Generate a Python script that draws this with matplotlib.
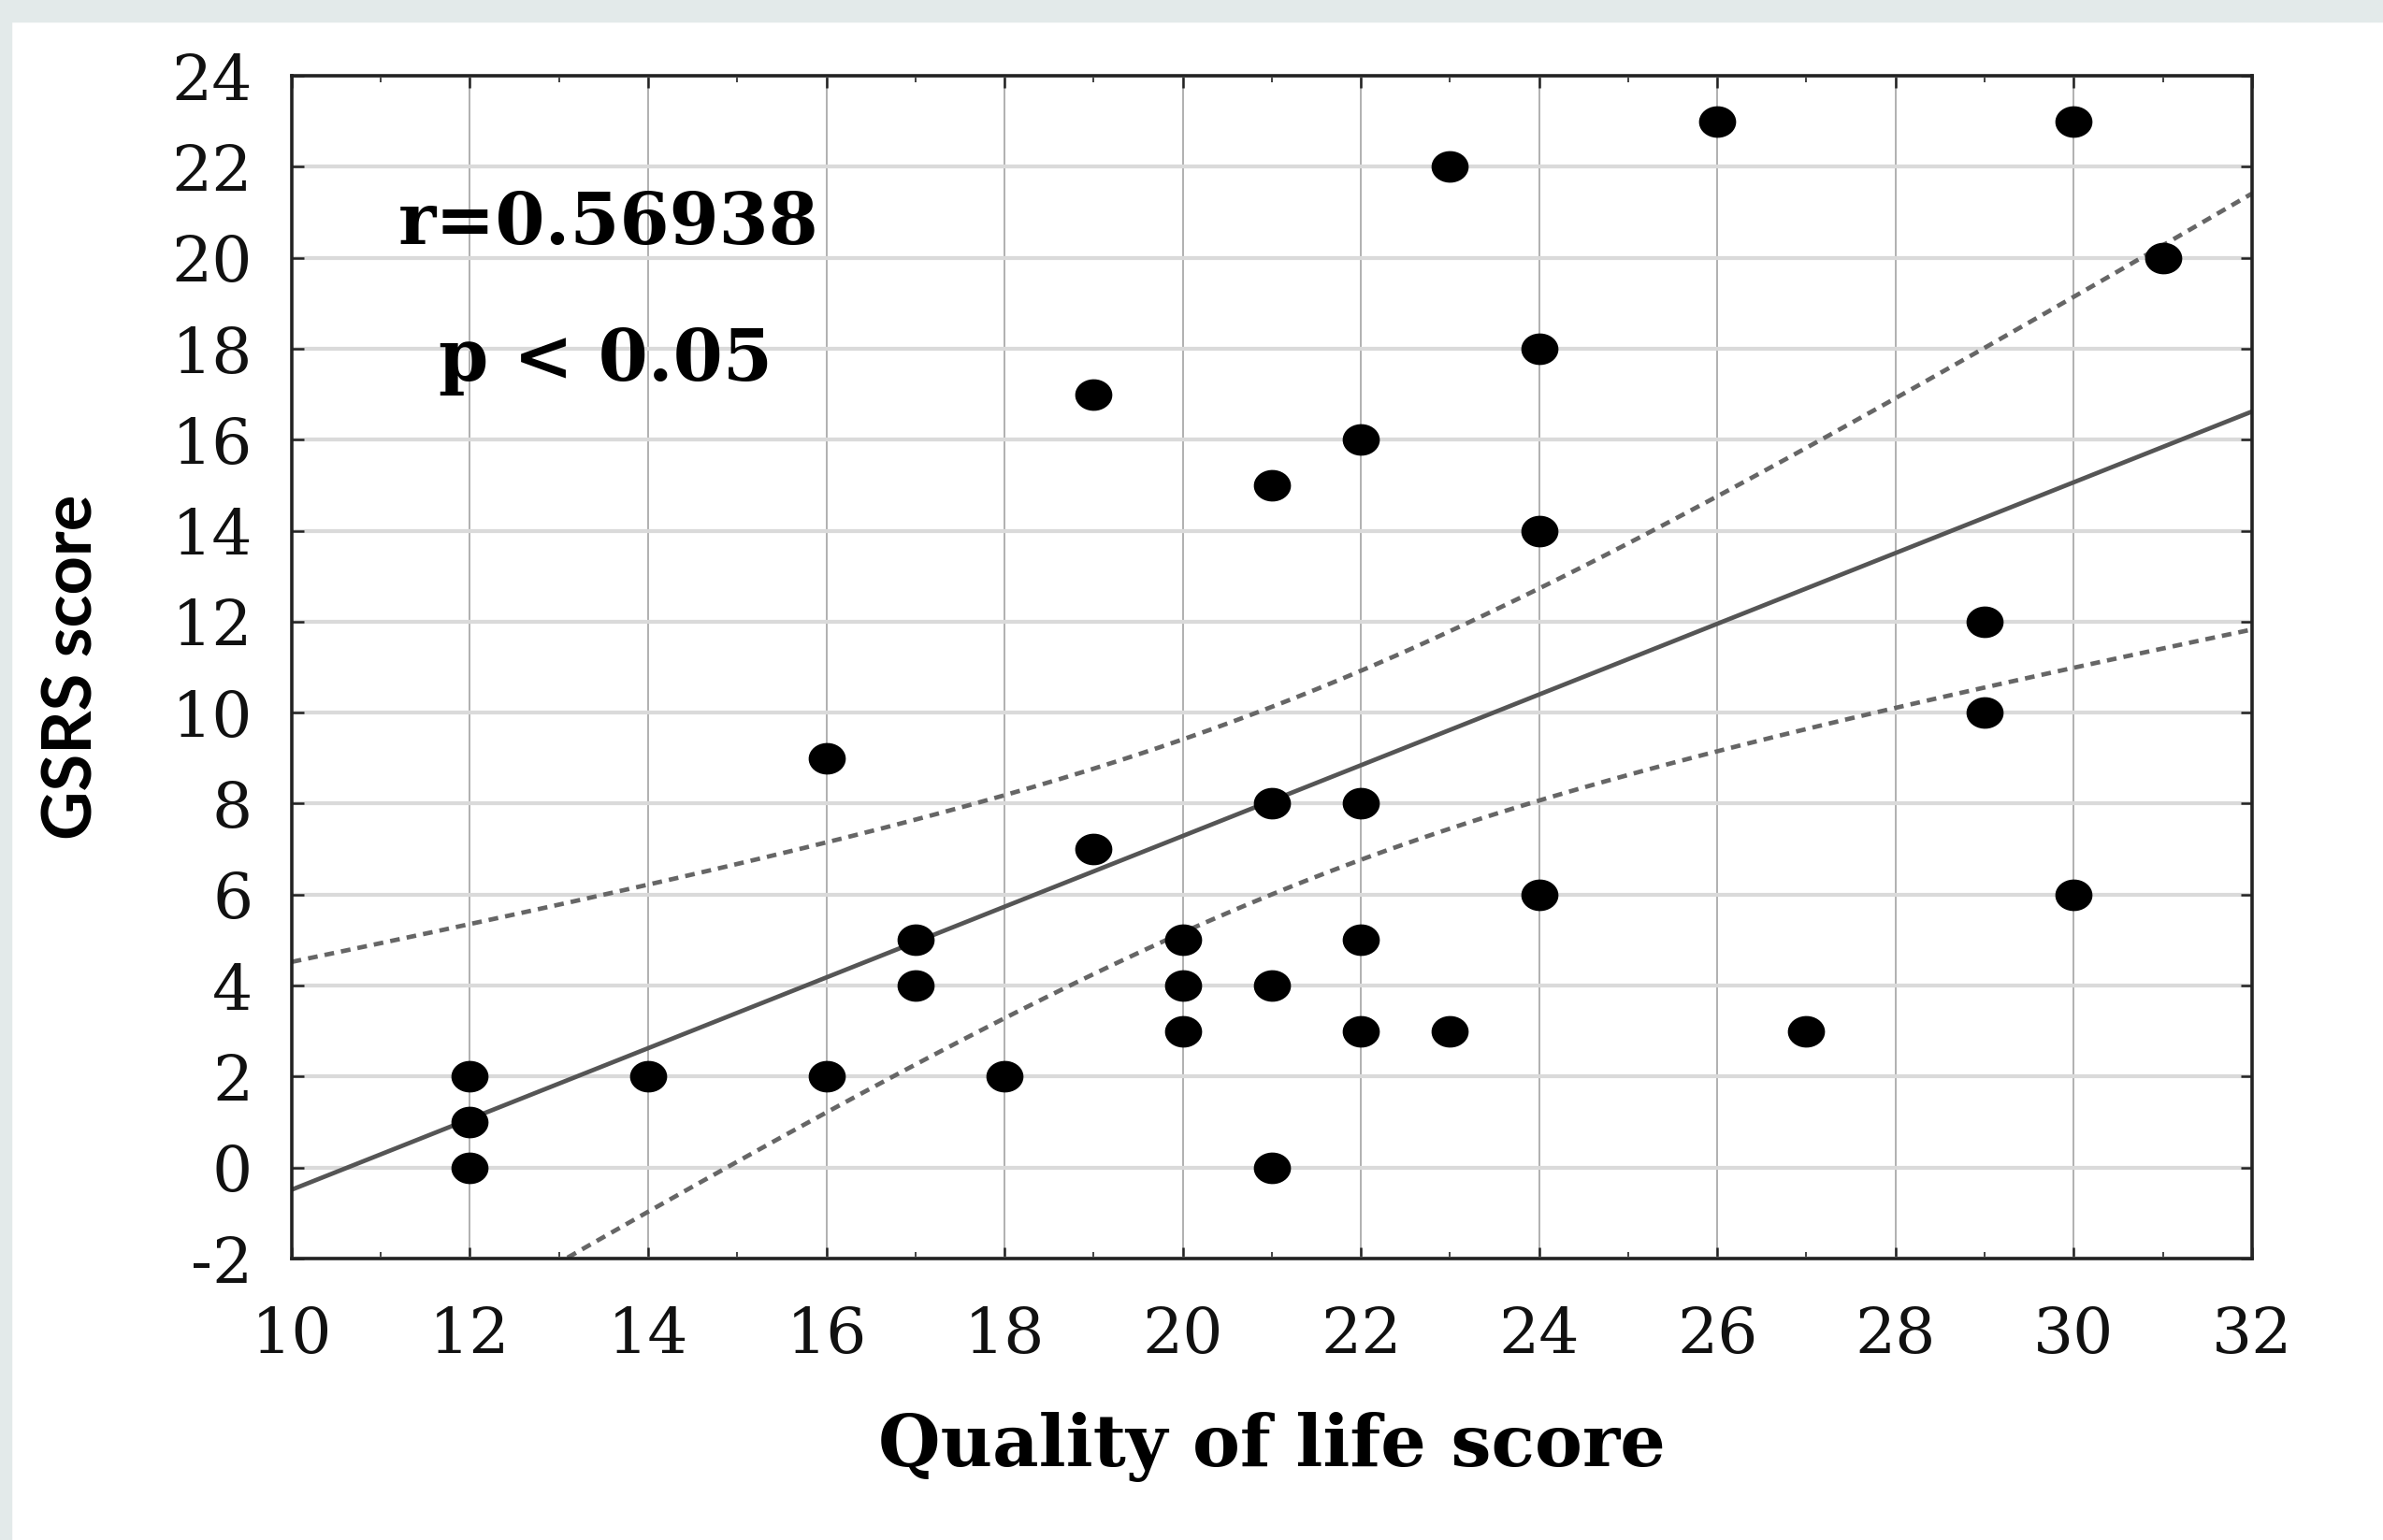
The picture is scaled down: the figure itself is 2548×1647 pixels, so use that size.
import numpy as np
import matplotlib.pyplot as plt
from matplotlib.patches import Rectangle
from matplotlib.ticker import MultipleLocator

plt.rcParams['axes.unicode_minus'] = False

# Quality of life score (x) vs GSRS score (y)
qol = [12, 12, 12, 14, 16, 16, 17, 17, 18, 19, 19, 20, 20, 20,
       21, 21, 21, 21, 22, 22, 22, 22, 23, 23, 24, 24, 24,
       26, 27, 29, 29, 30, 30, 31]
gsrs = [2, 1, 0, 2, 9, 2, 5, 4, 2, 17, 7, 5, 4, 3,
        15, 8, 4, 0, 16, 8, 5, 3, 22, 3, 18, 14, 6,
        23, 3, 12, 10, 23, 6, 20]
x_ticks = list(range(10, 33, 2))
y_ticks = list(range(-2, 25, 2))
t_crit = 2.0369  # t(0.975, df=32)

x = np.array(qol, dtype=float)
y = np.array(gsrs, dtype=float)
n = len(x)
slope, intercept = np.polyfit(x, y, 1)
resid = y - (slope * x + intercept)
s = np.sqrt(np.sum(resid ** 2) / (n - 2))
sxx = np.sum((x - x.mean()) ** 2)
r = np.corrcoef(x, y)[0, 1]

xs = np.linspace(10, 32, 200)
fit = slope * xs + intercept
half = t_crit * s * np.sqrt(1.0 / n + (xs - x.mean()) ** 2 / sxx)

fig = plt.figure(figsize=(25.48, 16.47), dpi=100)
# grey frame of the screenshot
fig.patches.append(Rectangle((0, 0.986), 1, 0.014, transform=fig.transFigure,
                             color='#e3eaea', zorder=-1))
fig.patches.append(Rectangle((0, 0), 0.0047, 1, transform=fig.transFigure,
                             color='#e3eaea', zorder=-1))

ax = fig.add_axes([0.1224, 0.1828, 0.8226, 0.768])
ax.set_xlim(10, 32)
ax.set_ylim(-2, 24)

ax.set_xticks(x_ticks)
ax.set_yticks(y_ticks)
ax.xaxis.set_minor_locator(MultipleLocator(1))
ax.grid(axis='x', which='major', color='#b0b0b0', lw=1.4)
ax.grid(axis='y', which='major', color='#dadada', lw=3.0)
ax.set_axisbelow(True)

ax.plot(xs, fit, color='#555555', lw=3.4, zorder=2)
ax.plot(xs, fit + half, color='#666666', lw=3.4, ls=(0, (2.2, 1.6)), zorder=2)
ax.plot(xs, fit - half, color='#666666', lw=3.4, ls=(0, (2.2, 1.6)), zorder=2)

t = np.linspace(0, 2 * np.pi, 40)
ell = np.column_stack([np.cos(t), 0.85 * np.sin(t)])
ax.scatter(x, y, marker=ell, s=820, color='black', zorder=3, linewidths=0)

for sp in ax.spines.values():
    sp.set_linewidth(2.6)
    sp.set_color('#222222')

ax.tick_params(which='both', direction='in', top=True, right=True,
               color='#222222')
ax.tick_params(which='major', length=9, width=1.8)
ax.tick_params(which='minor', length=5, width=1.2)
ax.tick_params(axis='x', pad=36, labelsize=49)
ax.tick_params(axis='y', pad=30, labelsize=49)
for lab in ax.get_xticklabels() + ax.get_yticklabels():
    lab.set_fontfamily('DejaVu Serif')
    lab.set_color('#111111')

ax.set_xlabel('Quality of life score', family='DejaVu Serif',
              fontweight='bold', fontsize=55, va='center')
ax.xaxis.set_label_coords(0.5, -0.159)
ax.set_ylabel('GSRS score', family='Lato', fontweight='bold',
              fontsize=52, va='center')
ax.yaxis.set_label_coords(-0.1116, 0.5)

ax.text(11.2, 20.3, 'r=%.5f' % r, family='DejaVu Serif',
        fontweight='bold', fontsize=55, va='baseline', ha='left')
ax.text(11.65, 17.3, 'p < 0.05', family='DejaVu Serif',
        fontweight='bold', fontsize=55, va='baseline', ha='left')

fig.savefig('out.png', dpi=100, facecolor='white')
